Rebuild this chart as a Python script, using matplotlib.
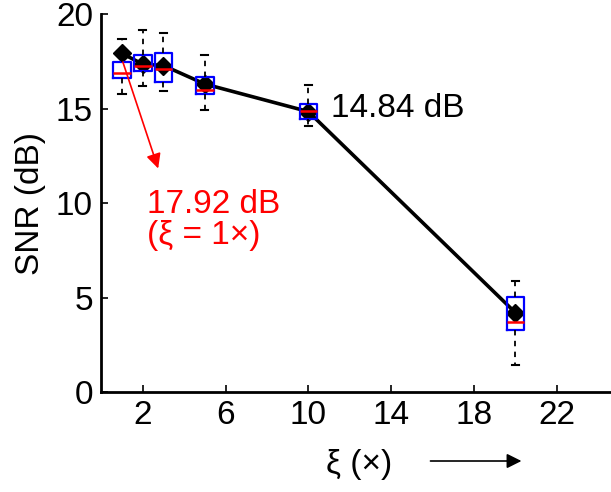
import matplotlib
matplotlib.use("Agg")
import matplotlib.pyplot as plt

plt.rcParams['font.family'] = ['Liberation Sans', 'DejaVu Sans']

# -----------------------------
# DATA
# -----------------------------
xi = [1, 2, 3, 5, 10, 20]
snr_mean = [17.92, 17.35, 17.28, 16.30, 14.84, 4.20]
snr_med = [16.86, 17.28, 17.07, 15.98, 14.85, 3.72]
snr_q1 = [16.61, 17.00, 16.40, 15.77, 14.46, 3.28]
snr_q3 = [17.49, 17.85, 17.95, 16.65, 15.24, 5.01]
snr_lo = [15.77, 16.19, 15.91, 14.92, 14.07, 1.43]
snr_hi = [18.66, 19.15, 18.98, 17.85, 16.26, 5.89]

xticks = [2, 6, 10, 14, 18, 22]
yticks = [0, 5, 10, 15, 20]

# -----------------------------
# FIGURE
# -----------------------------
fig = plt.figure(figsize=(6.11, 4.92), dpi=100)
ax = fig.add_axes([0.1658, 0.2033, 0.8342, 0.768])

stats = []
for i in range(len(xi)):
    stats.append(dict(med=snr_med[i], q1=snr_q1[i], q3=snr_q3[i],
                      whislo=snr_lo[i], whishi=snr_hi[i], fliers=[]))

# mean curve
ax.plot(xi, snr_mean, color='black', lw=2.6, marker='D', ms=9,
        zorder=2, clip_on=False)

ax.bxp(stats, positions=xi, widths=0.85, capwidths=0.35,
       manage_ticks=False, patch_artist=False,
       boxprops=dict(color='blue', lw=1.6),
       medianprops=dict(color='red', lw=1.8),
       whiskerprops=dict(color='black', lw=1.3, ls=(0, (3, 3))),
       capprops=dict(color='black', lw=1.5), zorder=3)

ax.set_xlim(0, 24.62)
ax.set_ylim(0, 20)
ax.set_xticks(xticks)
ax.set_yticks(yticks)
ax.tick_params(direction='in', length=5, width=1.2, labelsize=24, pad=6)
for s in ['top', 'right']:
    ax.spines[s].set_visible(False)
for s in ['left', 'bottom']:
    ax.spines[s].set_linewidth(2)

ax.set_ylabel('SNR (dB)', fontsize=24, labelpad=7)

# annotations
ax.text(11.1, 15.0, '14.84 dB', fontsize=24, va='center', ha='left')
ax.annotate('', xy=(2.79, 11.69), xytext=(1.0, 17.6),
            arrowprops=dict(arrowstyle='-|>', color='red', lw=1.2,
                            mutation_scale=22))
ax.text(2.2, 10.75, '17.92 dB\n(ξ = 1×)', fontsize=24, color='red',
        va='top', ha='left', linespacing=1.0)

# x label with arrow
fig.text(0.534, 0.055, 'ξ (×)', fontsize=24, ha='left', va='center')
fig.add_artist(matplotlib.patches.FancyArrowPatch(
    (0.700, 0.063), (0.858, 0.063), transform=fig.transFigure,
    arrowstyle='-|>', mutation_scale=22, color='black', lw=1.2))

fig.savefig('out.png', dpi=100)
